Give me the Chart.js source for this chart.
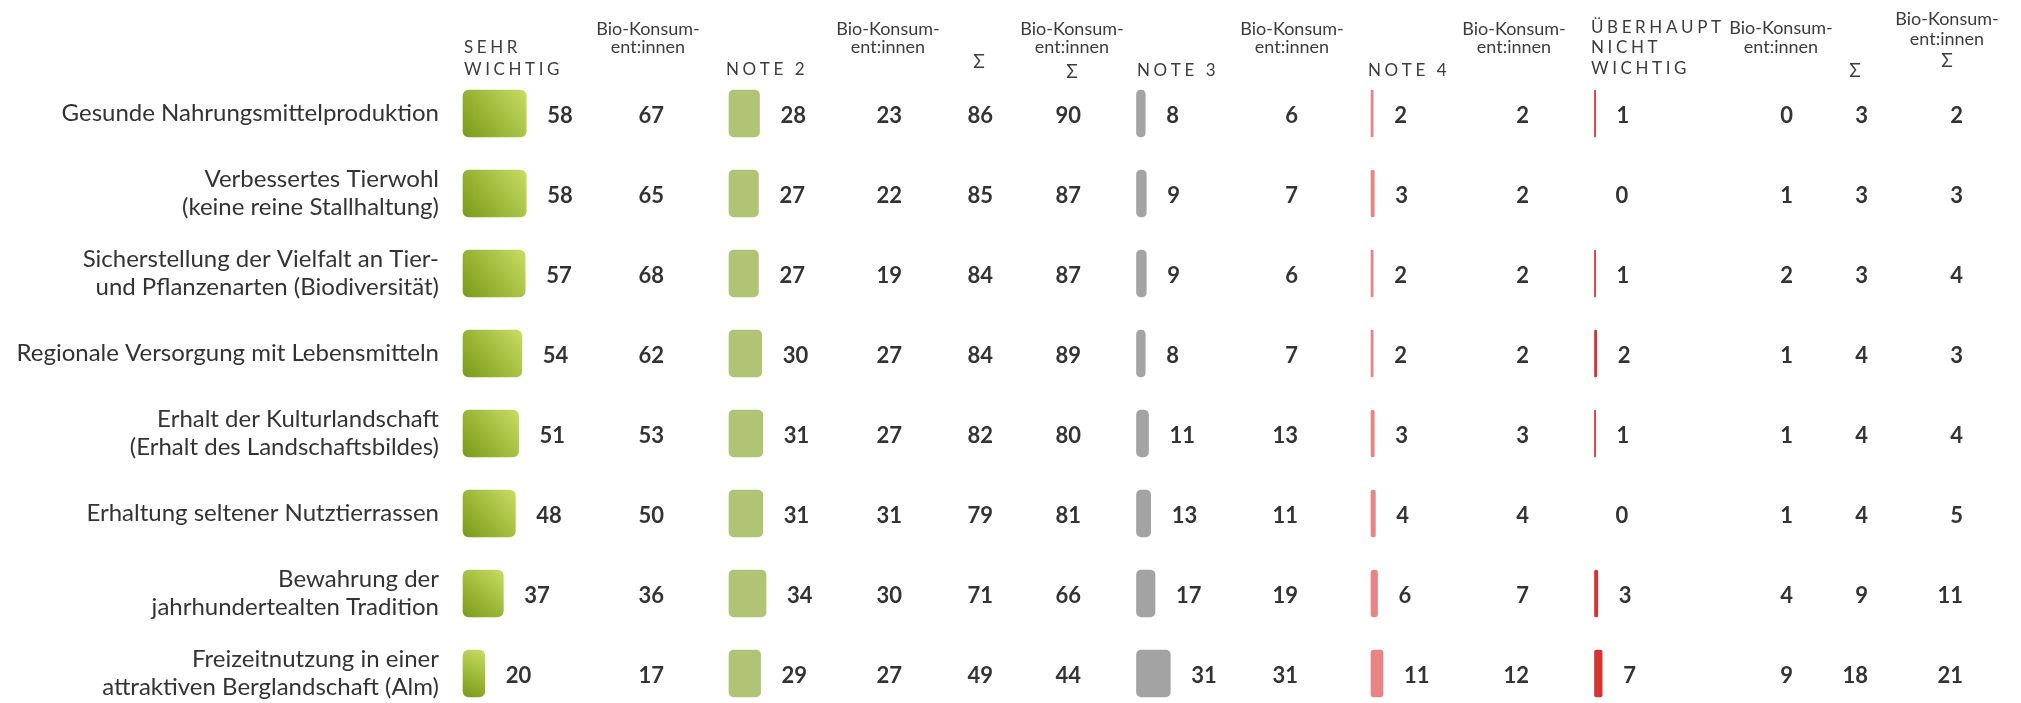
<!DOCTYPE html>
<html lang="de">
<head>
<meta charset="utf-8">
<title>Wichtigkeit der Aspekte</title>
<script src="https://cdn.jsdelivr.net/npm/chart.js@4.4.1/dist/chart.umd.min.js"></script>
<style>
  html, body { margin: 0; padding: 0; background: #fff; }
  #wrap { width: 2021px; height: 703px; }
</style>
</head>
<body>
<div id="wrap"><canvas id="chart" width="2021" height="703"></canvas></div>
<script>
// Zeilen
const categories = [
    'Gesunde Nahrungsmittelproduktion',
    ['Verbessertes Tierwohl', '(keine reine Stallhaltung)'],
    ['Sicherstellung der Vielfalt an Tier-', 'und Pflanzenarten (Biodiversität)'],
    'Regionale Versorgung mit Lebensmitteln',
    ['Erhalt der Kulturlandschaft', '(Erhalt des Landschaftsbildes)'],
    'Erhaltung seltener Nutztierrassen',
    ['Bewahrung der', 'jahrhundertealten Tradition'],
    ['Freizeitnutzung in einer', 'attraktiven Berglandschaft (Alm)']
];

// Werte in %
const sehrWichtig    = [58, 58, 57, 54, 51, 48, 37, 20];
const sehrWichtigBio = [67, 65, 68, 62, 53, 50, 36, 17];
const note2          = [28, 27, 27, 30, 31, 31, 34, 29];
const note2Bio       = [23, 22, 19, 27, 27, 31, 30, 27];
const sumTop         = [86, 85, 84, 84, 82, 79, 71, 49];
const sumTopBio      = [90, 87, 87, 89, 80, 81, 66, 44];
const note3          = [8, 9, 9, 8, 11, 13, 17, 31];
const note3Bio       = [6, 7, 6, 7, 13, 11, 19, 31];
const note4          = [2, 3, 2, 2, 3, 4, 6, 11];
const note4Bio       = [2, 2, 2, 2, 3, 4, 7, 12];
const garNicht       = [1, 0, 1, 2, 1, 0, 3, 7];
const garNichtBio    = [0, 1, 2, 1, 1, 1, 4, 9];
const sumBottom      = [3, 3, 3, 4, 4, 4, 9, 18];
const sumBottomBio   = [2, 3, 4, 3, 4, 5, 11, 21];

const FONT = 'Lato, "Noto Sans", sans-serif';
const TEXT = '#333333';
const HEAD = '#3c3c3c';

// layout
const CANVAS_W = 2021;
const AXIS_W = 447;
const AREA_W = CANVAS_W - AXIS_W;
const PX_PER_UNIT = 1.09;
const BAR_H = 47;
const LABEL_GAP = 21;

function valueAxis(start) {
    const min = -(start - AXIS_W) / PX_PER_UNIT;
    return { type: 'linear', display: false, bounds: 'data', min: min, max: min + AREA_W / PX_PER_UNIT };
}

// zero values get no mark at all
function solid(color) {
    return c => (c.type === 'data' && c.raw === 0) ? 'rgba(0,0,0,0)' : color;
}

function sehrColor(c) {
    const chart = c.chart;
    if (c.type !== 'data' || !chart.chartArea) return '#a8c040';
    const xs = chart.scales.x0;
    const ys = chart.scales.y;
    const x0 = xs.getPixelForValue(0);
    const x1 = xs.getPixelForValue(c.raw);
    const yc = ys.getPixelForValue(c.dataIndex);
    const g = chart.ctx.createLinearGradient(x0, yc + BAR_H / 2, x1, yc - BAR_H / 2);
    g.addColorStop(0, '#7a9a18');
    g.addColorStop(1, '#c8dc62');
    return g;
}

// columns with plain numbers (right edge)
const textColumns = [
    { values: sehrWichtigBio, right: 664 },
    { values: note2Bio, right: 902 },
    { values: sumTop, right: 993 },
    { values: sumTopBio, right: 1081 },
    { values: note3Bio, right: 1298 },
    { values: note4Bio, right: 1529 },
    { values: garNichtBio, right: 1793 },
    { values: sumBottom, right: 1868 },
    { values: sumBottomBio, right: 1963 }
];

const bio = ['Bio-Konsum-', 'ent:innen'];
const headers = [
    { lines: ['SEHR', 'WICHTIG'], x: 464, y: [53, 75], caps: true },
    { lines: bio, x: 648, y: [35, 53] },
    { lines: ['NOTE 2'], x: 726, y: [75], caps: true },
    { lines: bio, x: 888, y: [35, 53] },
    { lines: ['Σ'], x: 979, y: [68] },
    { lines: bio.concat(['Σ']), x: 1072, y: [35, 53, 78] },
    { lines: ['NOTE 3'], x: 1137, y: [76], caps: true },
    { lines: bio, x: 1292, y: [35, 53] },
    { lines: ['NOTE 4'], x: 1368, y: [76], caps: true },
    { lines: bio, x: 1514, y: [35, 53] },
    { lines: ['ÜBERHAUPT', 'NICHT', 'WICHTIG'], x: 1591, y: [33, 53, 74], caps: true },
    { lines: bio, x: 1781, y: [34, 53] },
    { lines: ['Σ'], x: 1855, y: [77] },
    { lines: bio.concat(['Σ']), x: 1947, y: [25, 45, 67] }
];

function drawSpaced(ctx, text, x, y, spacing) {
    for (const ch of text) {
        ctx.fillText(ch, x, y);
        x += ctx.measureText(ch).width + spacing;
    }
}

const tableText = {
    id: 'tableText',
    afterDatasetsDraw(chart) {
        const ctx = chart.ctx;
        const ys = chart.scales.y;
        ctx.save();
        ctx.fillStyle = TEXT;
        ctx.font = 'bold 22px ' + FONT;
        ctx.textBaseline = 'alphabetic';

        // labels behind the bars
        ctx.textAlign = 'left';
        chart.data.datasets.forEach((ds, di) => {
            chart.getDatasetMeta(di).data.forEach((bar, i) => {
                ctx.fillText(String(ds.data[i]), bar.x + LABEL_GAP, bar.y + 9.5);
            });
        });

        ctx.textAlign = 'right';
        textColumns.forEach(col => {
            col.values.forEach((v, i) => {
                ctx.fillText(String(v), col.right, ys.getPixelForValue(i) + 9.5);
            });
        });

        // column heads
        ctx.fillStyle = HEAD;
        headers.forEach(h => {
            h.lines.forEach((line, li) => {
                if (h.caps) {
                    ctx.font = '17px ' + FONT;
                    ctx.textAlign = 'left';
                    drawSpaced(ctx, line, h.x, h.y[li], 3.6);
                } else {
                    ctx.font = (line === 'Σ' ? '19px ' : '18px ') + FONT;
                    ctx.textAlign = 'center';
                    ctx.fillText(line, h.x, h.y[li]);
                }
            });
        });
        ctx.restore();
    }
};

new Chart(document.getElementById('chart'), {
    type: 'bar',
    data: {
        labels: categories,
        datasets: [
            { label: 'sehr wichtig', data: sehrWichtig, xAxisID: 'x0', backgroundColor: sehrColor, borderRadius: 6 },
            { label: 'Note 2', data: note2, xAxisID: 'x1', backgroundColor: solid('#b1c476'), borderRadius: 5 },
            { label: 'Note 3', data: note3, xAxisID: 'x2', backgroundColor: solid('#a3a3a3'), borderRadius: 5 },
            { label: 'Note 4', data: note4, xAxisID: 'x3', backgroundColor: solid('#e88484'), borderRadius: 3 },
            { label: 'überhaupt nicht wichtig', data: garNicht, xAxisID: 'x4', backgroundColor: solid('#d83333'), borderRadius: 2 }
        ]
    },
    options: {
        indexAxis: 'y',
        responsive: false,
        animation: false,
        events: [],
        layout: { padding: { top: 113.5, bottom: 29.5, left: 0, right: 0 } },
        datasets: {
            bar: { grouped: false, barThickness: BAR_H, borderSkipped: false, clip: false }
        },
        plugins: {
            legend: { display: false },
            tooltip: { enabled: false }
        },
        scales: {
            y: {
                type: 'category',
                offset: false,
                grid: { display: false, drawTicks: false },
                border: { display: false },
                ticks: {
                    autoSkip: false,
                    padding: 8,
                    color: TEXT,
                    font: { family: FONT, size: 24, lineHeight: 1.167 }
                },
                afterFit(scale) { scale.width = AXIS_W; }
            },
            x0: valueAxis(463),
            x1: valueAxis(729),
            x2: valueAxis(1136.5),
            x3: valueAxis(1371),
            x4: valueAxis(1594.5)
        }
    },
    plugins: [tableText]
});
</script>
</body>
</html>
